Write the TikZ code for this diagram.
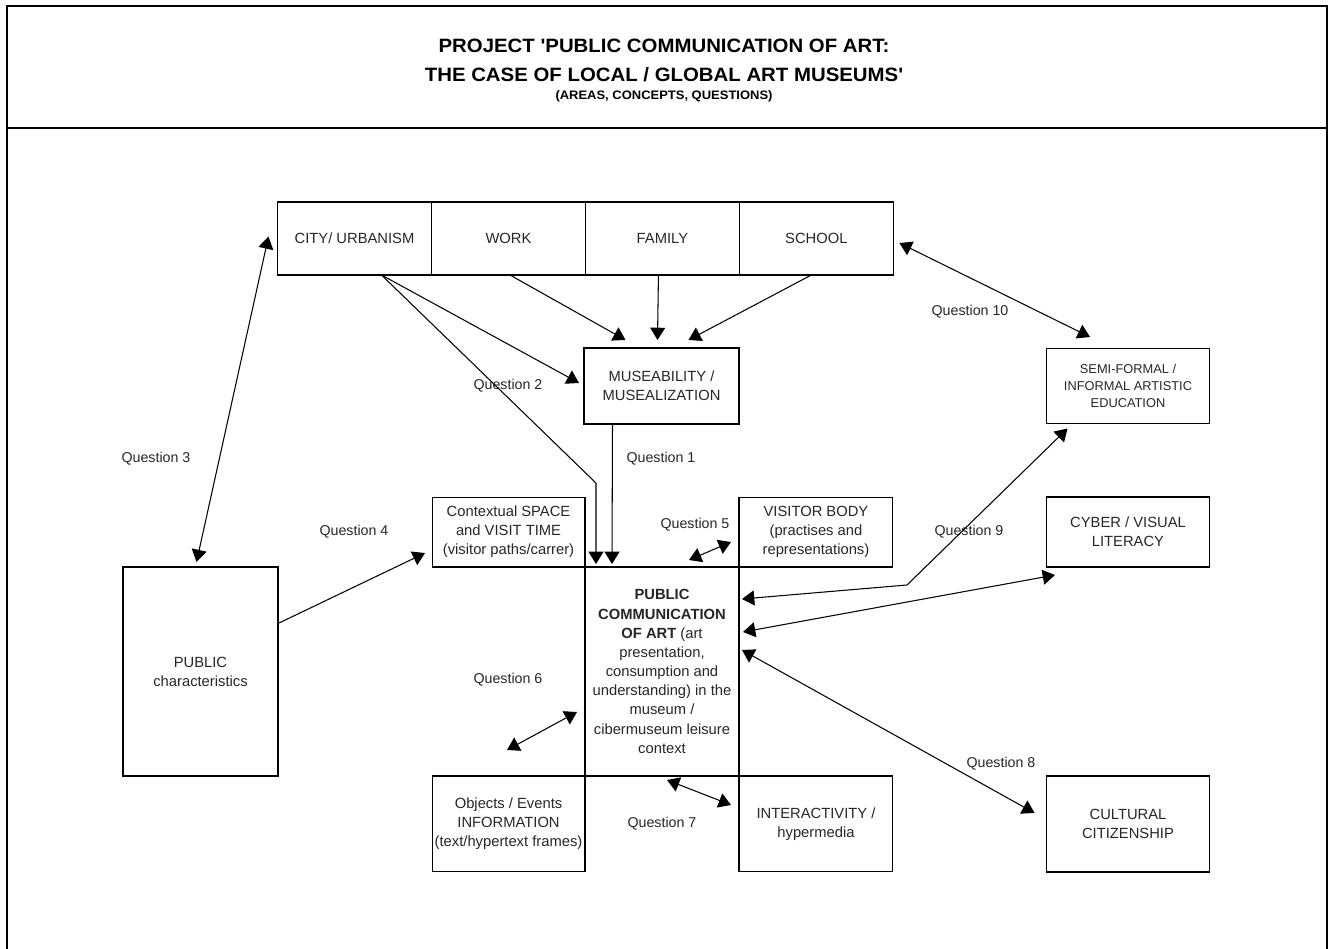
\documentclass[tikz,border=0pt]{standalone}
\usepackage{fontspec}
\setmainfont{Liberation Sans}[Ligatures=TeXOff]
\usepackage{tikz}
\usetikzlibrary{positioning, calc, arrows.meta}

\tikzset{
  box/.style={draw, line width=0.6pt, align=center, inner sep=0pt, outer sep=0pt,
    text=black!85, font=\fontsize{8.4}{10.9}\selectfont},
  qlabel/.style={text=black!85, font=\fontsize{8.1}{10}\selectfont},
  ttl/.style={font=\bfseries\fontsize{11}{13}\selectfont, xscale=1.055, transform shape},
  arr/.style={-{Triangle[length=7pt,width=8.5pt]}, line width=0.6pt},
  darr/.style={{Triangle[length=7pt,width=8.5pt]}-{Triangle[length=7pt,width=8.5pt]}, line width=0.6pt}
}

\begin{document}
\begin{tikzpicture}[x=0.02cm, y=-0.02cm]
\useasboundingbox (0,0) rectangle (1330,949);
\draw[line width=1.2pt] (7,949) -- (7,6) -- (1327,6) -- (1327,949);
\draw[line width=1.1pt] (7,128) -- (1327,128);

\node[ttl] (t1) at (664,46) {PROJECT 'PUBLIC COMMUNICATION OF ART:};
\node[ttl] (t2) at (664,75) {THE CASE OF LOCAL / GLOBAL ART MUSEUMS'};
\node[ttl, font=\bfseries\fontsize{7}{9}\selectfont] (t3) at (664,96) {(AREAS, CONCEPTS, QUESTIONS)};

\node[box, minimum width=3.08cm, minimum height=1.46cm] (city) at (354.5,238.5) {CITY/ URBANISM};
\node[box, minimum width=3.08cm, minimum height=1.46cm, right=0pt of city] (work) {WORK};
\node[box, minimum width=3.08cm, minimum height=1.46cm, right=0pt of work] (family) {FAMILY};
\node[box, minimum width=3.08cm, minimum height=1.46cm, right=0pt of family] (school) {SCHOOL};

\node[box, minimum width=3.1cm, minimum height=1.52cm] (museab) at (661.5,386) {MUSEABILITY /\\ MUSEALIZATION};

\node[box, minimum width=3.08cm, minimum height=4.18cm] (pca) at (662,671.5)
  {\textbf{PUBLIC}\\ \textbf{COMMUNICATION}\\ \textbf{OF ART} (art\\ presentation,\\ consumption and\\ understanding) in the\\ museum /\\ cibermuseum leisure\\ context};
\node[box, minimum width=3.06cm, minimum height=1.4cm, above left=0pt of pca.north west] (ctx)
  {Contextual SPACE\\ and VISIT TIME\\ (visitor paths/carrer)};
\node[box, minimum width=3.08cm, minimum height=1.4cm, above right=0pt of pca.north east] (visitor)
  {VISITOR BODY\\ (practises and\\ representations)};
\node[box, minimum width=3.06cm, minimum height=1.92cm, below left=0pt of pca.south west] (objects)
  {Objects / Events\\ INFORMATION\\ (text/hypertext frames)};
\node[box, minimum width=3.08cm, minimum height=1.92cm, below right=0pt of pca.south east] (interact)
  {INTERACTIVITY /\\ hypermedia};

\node[box, minimum width=3.1cm, minimum height=4.18cm] (public) at (200.5,671.5) {PUBLIC\\ characteristics};

\node[box, minimum width=3.26cm, minimum height=1.5cm, font=\fontsize{7.3}{9.6}\selectfont] (semi) at (1128,386)
  {SEMI-FORMAL /\\ INFORMAL ARTISTIC\\ EDUCATION};
\node[box, minimum width=3.26cm, minimum height=1.4cm] (cyber) at (1128,532) {CYBER / VISUAL\\ LITERACY};
\node[box, minimum width=3.26cm, minimum height=1.92cm] (cultural) at (1128,824) {CULTURAL\\ CITIZENSHIP};

\node[qlabel] (q1) at (661,459) {Question 1};
\node[qlabel] (q2) at (508,386) {Question 2};
\node[qlabel] (q3) at (156,459) {Question 3};
\node[qlabel] (q4) at (354,532) {Question 4};
\node[qlabel] (q5) at (695,525) {Question 5};
\node[qlabel] (q6) at (508,680) {Question 6};
\node[qlabel] (q7) at (662,824) {Question 7};
\node[qlabel] (q8) at (1001,764) {Question 8};
\node[qlabel] (q9) at (969,532) {Question 9};
\node[qlabel] (q10) at (970,312) {Question 10};

\draw[arr] ($(city.south)+(27,0)$) -- ($(museab.west)+(-5,-3)$);
\draw[arr] ($(city.south)+(27,0)$) -- ($(pca.north)+(-66,-84)$) -- ($(pca.north)+(-66,-3)$);
\draw[arr] ($(work.south)+(1.5,0)$) -- ($(museab.north)+(-36,-8)$);
\draw[arr] ($(family.south)+(-4,0)$) -- ($(museab.north)+(-4,-8)$);
\draw[arr] ($(school.south)+(-5,0)$) -- ($(museab.north)+(27,-8)$);
\draw[arr] ($(museab.south)+(-49,0)$) -- ($(pca.north)+(-50,-3)$);

\draw[darr] ($(city.west)+(-9,-2)$) -- ($(public.north)+(-4,-5)$);
\draw[arr] ($(public.east)+(0,-48)$) -- ($(ctx.west)+(-7,21)$);
\draw[darr] ($(visitor.west)+(-50,28)$) -- ($(visitor.west)+(-8,10)$);
\draw[darr] ($(pca.west)+(-78,78.5)$) -- ($(pca.west)+(-8,40.5)$);
\draw[darr] ($(pca.south)+(5,4)$) -- ($(interact.west)+(-8,-19)$);
\draw[darr] ($(pca.east)+(3,-21.5)$) -- ($(cultural.west)+(-12,-11)$);
\draw[darr] ($(pca.east)+(3,-72.5)$) -- ($(pca.east)+(168,-86.5)$) -- ($(semi.south west)+(21,5)$);
\draw[darr] ($(pca.east)+(4,-39.5)$) -- ($(cyber.south west)+(8.5,8)$);
\draw[darr] ($(school.east)+(6,4.5)$) -- ($(semi.north)+(-38,-11.5)$);
\end{tikzpicture}
\end{document}
